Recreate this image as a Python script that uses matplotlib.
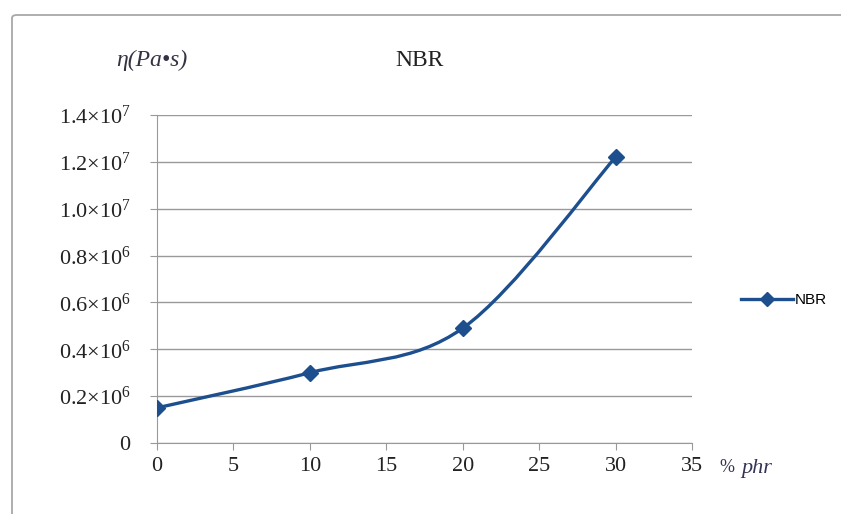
import numpy as np
import matplotlib.pyplot as plt
from matplotlib.path import Path
from matplotlib.patches import PathPatch, FancyBboxPatch
from matplotlib.lines import Line2D

### data
phr = [0, 10, 20, 30]
eta = [1.5e6, 3.0e6, 4.9e6, 12.2e6]
yticks = [0, 2e6, 4e6, 6e6, 8e6, 10e6, 12e6, 14e6]
ytick_labels = ['0', r'0.2$\times$10$^6$', r'0.4$\times$10$^6$', r'0.6$\times$10$^6$',
                r'0.8$\times$10$^6$', r'1.0$\times$10$^7$', r'1.2$\times$10$^7$',
                r'1.4$\times$10$^7$']
xticks = [0, 5, 10, 15, 20, 25, 30, 35]

color = '#1d4f8f'
plt.rcParams['mathtext.fontset'] = 'custom'
plt.rcParams['mathtext.rm'] = 'Liberation Serif'
plt.rcParams['mathtext.it'] = 'Liberation Serif:italic'

fig = plt.figure(figsize=(8.41, 5.14), dpi=100)
ax = fig.add_axes([157/841, 1-443/514, 535/841, 328/514])

# outer chart border
fig.patches.append(FancyBboxPatch((12/841, -0.1), 1.0, (1-15/514)+0.1,
                                  boxstyle='round,pad=0,rounding_size=0.006',
                                  transform=fig.transFigure,
                                  fill=False, edgecolor='#a8a8a8', lw=1.3))

# smooth line (Catmull-Rom style bezier, like the spreadsheet "smoothed line")
x = np.array(phr, float)
y = np.array(eta, float)
verts = [(x[0], y[0])]
codes = [Path.MOVETO]
t = 1/6
for i in range(len(x)-1):
    x0, y0 = (x[i-1], y[i-1]) if i > 0 else (x[i], y[i])
    x3, y3 = (x[i+2], y[i+2]) if i+2 < len(x) else (x[i+1], y[i+1])
    c1 = (x[i] + (x[i+1]-x0)*t, y[i] + (y[i+1]-y0)*t)
    c2 = (x[i+1] - (x3-x[i])*t, y[i+1] - (y3-y[i])*t)
    verts += [c1, c2, (x[i+1], y[i+1])]
    codes += [Path.CURVE4]*3
ax.add_patch(PathPatch(Path(verts, codes), fill=False, edgecolor=color, lw=2.4, zorder=3))
ax.plot(phr, eta, ls='none', marker='D', ms=8, color=color, zorder=4)

ax.set_xlim(0, 35)
ax.set_ylim(0, 14e6)
ax.set_yticks(yticks)
ax.set_yticklabels(ytick_labels)
ax.set_xticks(xticks)
ax.set_xticklabels([str(v) for v in xticks])
ax.grid(axis='y', color='#999999', lw=1)
ax.set_axisbelow(True)
for s in ['top', 'right']:
    ax.spines[s].set_visible(False)
for s in ['left', 'bottom']:
    ax.spines[s].set_color('#999999')
ax.tick_params(axis='both', direction='out', color='#999999', length=5,
               labelsize=16, labelfontfamily='Liberation Serif', labelcolor='#222222')
ax.tick_params(axis='x', pad=5)
ax.tick_params(axis='y', pad=14)

fig.text(420/841, 1-60/514, 'NBR', family='Liberation Serif', fontsize=17,
         ha='center', va='center', color='#222222')
fig.text(152/841, 1-60/514, 'η(Pa•s)', family='Liberation Serif', style='italic',
         fontsize=17, ha='center', va='center', color='#333344')
fig.text(719/841, 1-468/514, '%', family='Liberation Serif', fontsize=13,
         ha='left', va='center', color='#333355')
fig.text(741/841, 1-468/514, 'phr', family='Liberation Serif', style='italic',
         fontsize=16, ha='left', va='center', color='#333355')

# legend
handle = Line2D([], [], color=color, lw=2.4, marker='D', ms=7)
fig.legend([handle], ['NBR'], loc='center left', bbox_to_anchor=(727/841, 1-300/514),
           frameon=False, handlelength=3.4, handletextpad=0.15,
           prop={'family': 'Liberation Sans', 'size': 11})

plt.savefig('out.png')
plt.close()
